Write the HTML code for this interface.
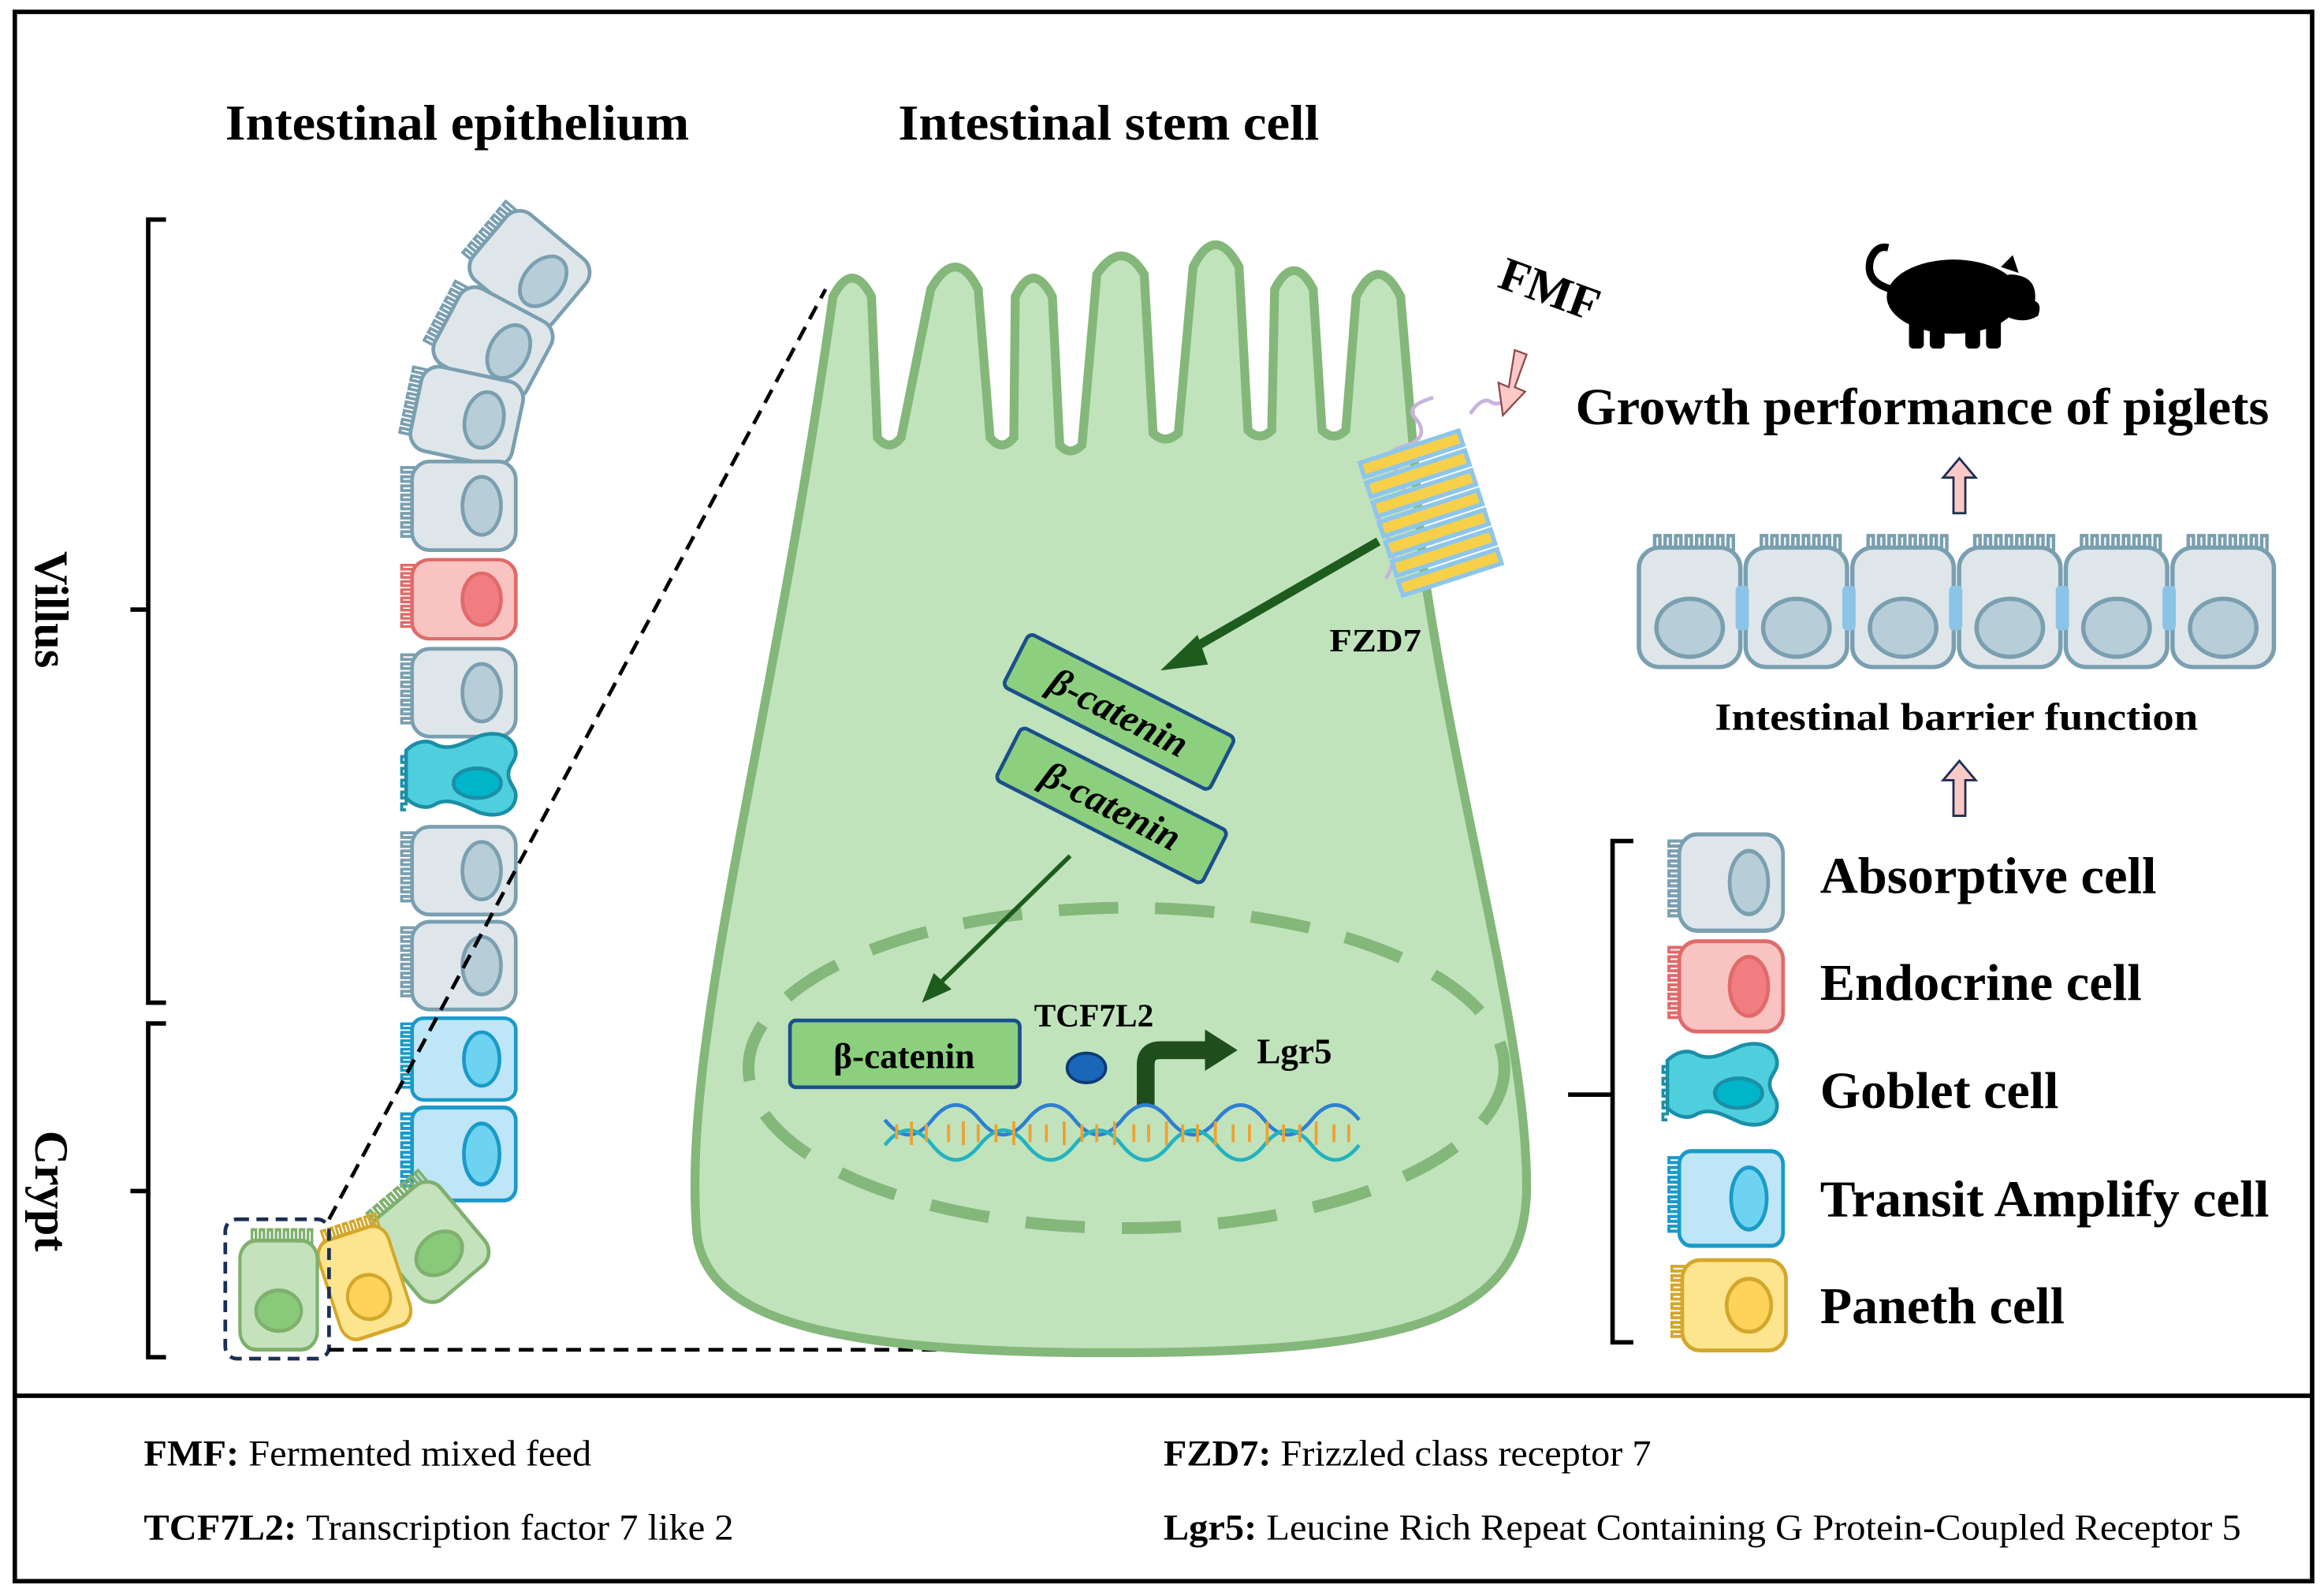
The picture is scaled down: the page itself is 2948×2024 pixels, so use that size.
<!DOCTYPE html>
<html><head><meta charset="utf-8"><style>
html,body{margin:0;padding:0;background:#fff}
svg{display:block}
text{font-family:"Liberation Serif",serif;font-weight:bold;fill:#000}
</style></head><body>
<svg width="2948" height="2024" viewBox="0 0 1568 1076" preserveAspectRatio="none" xmlns="http://www.w3.org/2000/svg">
<defs>
<path id="mv" d="M-30,-25 h-9 v3 h9 v3 h-9 v3 h9 v3 h-9 v3 h9 v3 h-9 v3 h9 v3 h-9 v3 h9 v3 h-9 v3 h9 v3 h-9 v3 h9 v3 h-9 v3 h9" fill="none" stroke-width="2"/>
<g id="abs"><use href="#mv" stroke="#7a9fb0"/><rect x="-32" y="-29" width="70" height="58" rx="12" fill="#dfe6ea" stroke="#7a9fb0" stroke-width="2.5"/><ellipse cx="15" cy="0" rx="13" ry="19" fill="#b7cdd8" stroke="#7a9fb0" stroke-width="2.5"/></g>
<g id="absb"><use href="#mv" stroke="#7a9fb0"/><rect x="-32" y="-29" width="70" height="58" rx="12" fill="#dfe6ea" stroke="#7a9fb0" stroke-width="2.5"/><ellipse cx="15" cy="0" rx="17" ry="19" fill="#b7cdd8" stroke="#7a9fb0" stroke-width="2.5"/></g>
<g id="endo"><use href="#mv" stroke="#e06a6a"/><rect x="-32" y="-29" width="70" height="58" rx="12" fill="#f8c3c0" stroke="#e06a6a" stroke-width="2.5"/><ellipse cx="15" cy="0" rx="13" ry="19" fill="#f27d80" stroke="#e06a6a" stroke-width="2.5"/></g>
<g id="ta"><use href="#mv" stroke="#1a9ac9"/><rect x="-32" y="-29" width="70" height="58" rx="8" fill="#bfe6f7" stroke="#1a9ac9" stroke-width="2.5"/><ellipse cx="15" cy="0" rx="12" ry="19" fill="#6dd3f0" stroke="#1a9ac9" stroke-width="2.5"/></g>
<g id="pan"><use href="#mv" stroke="#d4a72c"/><rect x="-32" y="-29" width="70" height="58" rx="12" fill="#fde58f" stroke="#d4a72c" stroke-width="2.5"/><ellipse cx="13" cy="0" rx="15" ry="17" fill="#fdd35a" stroke="#d4a72c" stroke-width="2.5"/></g>
<g id="stem"><use href="#mv" stroke="#7fb06e"/><rect x="-32" y="-29" width="70" height="58" rx="12" fill="#c4e2bb" stroke="#7fb06e" stroke-width="2.5"/><ellipse cx="13" cy="0" rx="13" ry="17" fill="#88c97a" stroke="#7fb06e" stroke-width="2.5"/></g>
<g id="gob"><path d="M-38,-22 c6,-6 14,-8 20,-4 c10,5 20,-2 30,-6 c14,-4 24,2 24,12 c0,5 -5,8 -5,14 c0,6 5,9 5,14 c0,10 -10,16 -24,12 c-10,-4 -20,-11 -30,-6 c-6,4 -14,2 -20,-4 z" fill="#4fcfdd" stroke="#1a8fa6" stroke-width="2.5"/><path d="M-38,-18 h-3 v4 h3 v4 h-3 v4 h3 v4 h-3 v4 h3 v4 h-3 v4 h3 v4 h-3 v4 h3" fill="none" stroke="#1a8fa6" stroke-width="2"/><ellipse cx="10" cy="0" rx="16" ry="10" fill="#00b5c9" stroke="#1a8fa6" stroke-width="2.5"/></g>
</defs>
<rect x="10" y="8" width="1550" height="1058" fill="#fff" stroke="#000" stroke-width="3"/>
<line x1="10" y1="941" x2="1560" y2="941" stroke="#000" stroke-width="3"/>
<text x="152" y="94" font-size="34" textLength="313" lengthAdjust="spacingAndGlyphs">Intestinal epithelium</text>
<text x="606" y="94" font-size="34" textLength="284" lengthAdjust="spacingAndGlyphs">Intestinal stem cell</text>
<!-- brackets -->
<path d="M112,148 H100 V676 H112 M100,411 H88" fill="none" stroke="#000" stroke-width="3"/>
<path d="M112,690 H100 V915 H112 M100,803 H88" fill="none" stroke="#000" stroke-width="3"/>
<text transform="translate(24,411) rotate(90)" font-size="32" text-anchor="middle">Villus</text>
<text transform="translate(24,803) rotate(90)" font-size="32" text-anchor="middle">Crypt</text>
<!-- column cells -->
<use href="#abs" transform="translate(355,180) rotate(40)"/>
<use href="#abs" transform="translate(330,230) rotate(28)"/>
<use href="#abs" transform="translate(312,280) rotate(12)"/>
<use href="#abs" transform="translate(310,341) scale(1,1.03)"/>
<use href="#endo" transform="translate(310,404) scale(1,0.92)"/>
<use href="#abs" transform="translate(310,467) scale(1,1.02)"/>
<use href="#gob" transform="translate(312,528)"/>
<use href="#abs" transform="translate(310,587) scale(1,1.02)"/>
<use href="#abs" transform="translate(310,651) scale(1,1.02)"/>
<use href="#ta" transform="translate(310,714) scale(1,0.95)"/>
<use href="#ta" transform="translate(310,778) scale(1,1.08)"/>
<use href="#stem" transform="translate(288,835) rotate(50)"/>
<use href="#pan" transform="translate(245,862) rotate(72) scale(1,0.85)"/>
<use href="#stem" transform="translate(188,870) rotate(90) scale(1.05,0.9)"/>
<rect x="152" y="822" width="70" height="94" rx="8" fill="none" stroke="#1c2f55" stroke-width="2.5" stroke-dasharray="8 5"/>
<line x1="222" y1="822" x2="557" y2="195" stroke="#000" stroke-width="2.5" stroke-dasharray="10 6"/>
<line x1="222" y1="910" x2="665" y2="910" stroke="#000" stroke-width="2.5" stroke-dasharray="10 6"/>
<!-- big stem cell -->
<path d="M470,830 C460,700 520,500 562,200 Q575,175 588,200 L592,295 Q600,305 608,295 L628,195 Q645,165 660,195 L668,295 Q676,305 684,295 L685,200 Q697,175 710,200 L715,300 Q722,308 730,300 L740,185 Q757,160 772,185 L778,292 Q786,300 795,292 L805,180 Q820,150 836,180 L842,290 Q850,298 858,290 L860,195 Q873,170 886,195 L892,290 Q900,298 908,290 L915,200 Q930,170 945,200 L960,380 C985,550 1030,700 1030,800 C1030,890 950,912 750,912 C560,912 475,890 470,830 Z" fill="#c0e3bc" stroke="#84b77a" stroke-width="6"/>
<ellipse cx="760" cy="720" rx="255" ry="108" fill="none" stroke="#84b77a" stroke-width="8" stroke-dasharray="40 25"/>
<!-- receptor -->
<path d="M1020,265 q-8,10 -14,6 q-6,-4 -14,8 M935,390 q10,-15 0,-30 q-12,-10 5,-20 q14,-10 0,-25 q-10,-10 10,-15 q15,-6 5,-18 q-8,-8 12,-14" fill="none" stroke="#c9b3dc" stroke-width="2.5"/>
<g transform="translate(965,345) rotate(-18)">
<rect x="-35" y="-46" width="70" height="10" fill="#f7d04a" stroke="#8ec6ea" stroke-width="3"/>
<rect x="-35" y="-32" width="70" height="10" fill="#f7d04a" stroke="#8ec6ea" stroke-width="3"/>
<rect x="-35" y="-18" width="70" height="10" fill="#f7d04a" stroke="#8ec6ea" stroke-width="3"/>
<rect x="-35" y="-4" width="70" height="10" fill="#f7d04a" stroke="#8ec6ea" stroke-width="3"/>
<rect x="-35" y="10" width="70" height="10" fill="#f7d04a" stroke="#8ec6ea" stroke-width="3"/>
<rect x="-35" y="24" width="70" height="10" fill="#f7d04a" stroke="#8ec6ea" stroke-width="3"/>
<rect x="-35" y="38" width="70" height="10" fill="#f7d04a" stroke="#8ec6ea" stroke-width="3"/>
</g>
<text x="897" y="439" font-size="22" textLength="62" lengthAdjust="spacingAndGlyphs">FZD7</text>
<text transform="translate(1042,205) rotate(20)" font-size="32" text-anchor="middle">FMF</text>
<path d="M1022,236 l8,3 l-8,22 l7,3 l-15,16 l-3,-22 l7,3 z" fill="#fcc9c6" stroke="#8a4a4a" stroke-width="1.2"/>
<!-- arrows -->
<line x1="930" y1="365" x2="800" y2="440" stroke="#1e5c1e" stroke-width="6"/>
<polygon points="783,452 808,428 815,448" fill="#1e5c1e"/>
<g transform="translate(755,480) rotate(27)"><rect x="-78" y="-20" width="156" height="40" rx="4" fill="#8ccf7e" stroke="#1b4f8a" stroke-width="2.5"/><text x="0" y="9" font-size="26" text-anchor="middle" font-style="italic">β-catenin</text></g>
<g transform="translate(750,543) rotate(27)"><rect x="-78" y="-20" width="156" height="40" rx="4" fill="#8ccf7e" stroke="#1b4f8a" stroke-width="2.5"/><text x="0" y="9" font-size="26" text-anchor="middle" font-style="italic">β-catenin</text></g>
<line x1="722" y1="577" x2="632" y2="665" stroke="#1e5c1e" stroke-width="3"/>
<polygon points="622,676 630,656 642,667" fill="#1e5c1e"/>
<rect x="533" y="688" width="155" height="45" rx="4" fill="#8ccf7e" stroke="#1b4f8a" stroke-width="2.5"/>
<text x="610" y="720" font-size="24" text-anchor="middle">β-catenin</text>
<text x="738" y="692" font-size="22" text-anchor="middle">TCF7L2</text>
<ellipse cx="733" cy="720" rx="13" ry="10" fill="#1a66b8" stroke="#0c3b73" stroke-width="2"/>
<path d="M773,745 V718 Q773,708 783,708 H815" fill="none" stroke="#1f4d1c" stroke-width="12"/>
<polygon points="813,694 835,708 813,722" fill="#1f4d1c"/>
<text x="848" y="717" font-size="24">Lgr5</text>
<!-- DNA -->
<g stroke-width="2.5" fill="none">
<path d="M597,755 q16,20 32,0 t32,0 t32,0 t32,0 t32,0 t32,0 t32,0 t32,0 t32,0 t32,0" stroke="#2e7fd0"/>
<path d="M597,772 q16,-20 32,0 t32,0 t32,0 t32,0 t32,0 t32,0 t32,0 t32,0 t32,0 t32,0" stroke="#22b3c0"/>
<path d="M605,758 v10 M615,756 v16 M625,758 v12 M640,758 v12 M650,756 v16 M660,758 v12 M672,758 v12 M684,756 v16 M695,758 v12 M706,758 v12 M718,756 v16 M730,758 v12 M740,758 v12 M752,756 v16 M765,758 v12 M775,758 v12 M787,756 v16 M798,758 v12 M808,758 v12 M820,756 v16 M832,758 v12 M843,758 v12 M855,756 v16 M866,758 v12 M877,758 v12 M888,756 v16 M900,758 v12 M910,758 v12" stroke="#f0a030" stroke-width="2"/>
</g>
<!-- pig -->
<g fill="#000">
<ellipse cx="1318" cy="200" rx="45" ry="25"/>
<path d="M1355,185 q20,0 18,18 q5,2 2,10 q-10,6 -22,0 z"/>
<rect x="1288" y="210" width="10" height="25" rx="3"/><rect x="1302" y="210" width="10" height="25" rx="3"/>
<rect x="1326" y="210" width="10" height="25" rx="3"/><rect x="1340" y="210" width="10" height="25" rx="3"/>
<path d="M1350,180 l8,-8 l4,12 z"/>
</g>
<path d="M1276,195 q-18,-5 -14,-20 q4,-10 12,-8" fill="none" stroke="#000" stroke-width="5"/>
<text x="1063" y="286" font-size="35" textLength="468" lengthAdjust="spacingAndGlyphs">Growth performance of piglets</text>
<path d="M1318,346 v-24 h-7 l11,-13 l11,13 h-7 v24 z" fill="#fcc9c6" stroke="#1c2f55" stroke-width="1.5"/>
<path d="M1318,550 v-24 h-7 l11,-13 l11,13 h-7 v24 z" fill="#fcc9c6" stroke="#1c2f55" stroke-width="1.5"/>
<!-- barrier -->
<g>
<use href="#absb" transform="translate(1140,406) rotate(90) scale(1.15,1.18)"/>
<use href="#absb" transform="translate(1212,406) rotate(90) scale(1.15,1.18)"/>
<use href="#absb" transform="translate(1284,406) rotate(90) scale(1.15,1.18)"/>
<use href="#absb" transform="translate(1356,406) rotate(90) scale(1.15,1.18)"/>
<use href="#absb" transform="translate(1428,406) rotate(90) scale(1.15,1.18)"/>
<use href="#absb" transform="translate(1500,406) rotate(90) scale(1.15,1.18)"/>
</g>
<g fill="#8cc4e8">
<rect x="1171" y="395" width="9" height="30" rx="3"/><rect x="1243" y="395" width="9" height="30" rx="3"/><rect x="1315" y="395" width="9" height="30" rx="3"/><rect x="1387" y="395" width="9" height="30" rx="3"/><rect x="1459" y="395" width="9" height="30" rx="3"/>
</g>
<text x="1157" y="492" font-size="26" textLength="326" lengthAdjust="spacingAndGlyphs">Intestinal barrier function</text>
<!-- legend -->
<path d="M1102,567 H1088 V905 H1102 M1088,738 H1058" fill="none" stroke="#000" stroke-width="3"/>
<use href="#abs" transform="translate(1165,595) scale(1,1.12)"/>
<use href="#endo" transform="translate(1165,665) scale(1,1.05)"/>
<use href="#gob" transform="translate(1163,737)"/>
<use href="#ta" transform="translate(1165,808) scale(1,1.1)"/>
<use href="#pan" transform="translate(1167,880) scale(1,1.05)"/>
<text x="1228" y="602" font-size="35" textLength="227" lengthAdjust="spacingAndGlyphs">Absorptive cell</text>
<text x="1228" y="674" font-size="35" textLength="217" lengthAdjust="spacingAndGlyphs">Endocrine cell</text>
<text x="1228" y="747" font-size="35" textLength="161" lengthAdjust="spacingAndGlyphs">Goblet cell</text>
<text x="1228" y="820" font-size="35" textLength="303" lengthAdjust="spacingAndGlyphs">Transit Amplify cell</text>
<text x="1228" y="892" font-size="35" textLength="165" lengthAdjust="spacingAndGlyphs">Paneth cell</text>
<!-- footer -->
<text x="97" y="988" font-size="25" textLength="302" lengthAdjust="spacingAndGlyphs">FMF: <tspan font-weight="normal">Fermented mixed feed</tspan></text>
<text x="97" y="1038" font-size="25" textLength="398" lengthAdjust="spacingAndGlyphs">TCF7L2: <tspan font-weight="normal">Transcription factor 7 like 2</tspan></text>
<text x="785" y="988" font-size="25" textLength="329" lengthAdjust="spacingAndGlyphs">FZD7: <tspan font-weight="normal">Frizzled class receptor 7</tspan></text>
<text x="785" y="1038" font-size="25" textLength="727" lengthAdjust="spacingAndGlyphs">Lgr5: <tspan font-weight="normal">Leucine Rich Repeat Containing G Protein-Coupled Receptor 5</tspan></text>
</svg>
</body></html>
